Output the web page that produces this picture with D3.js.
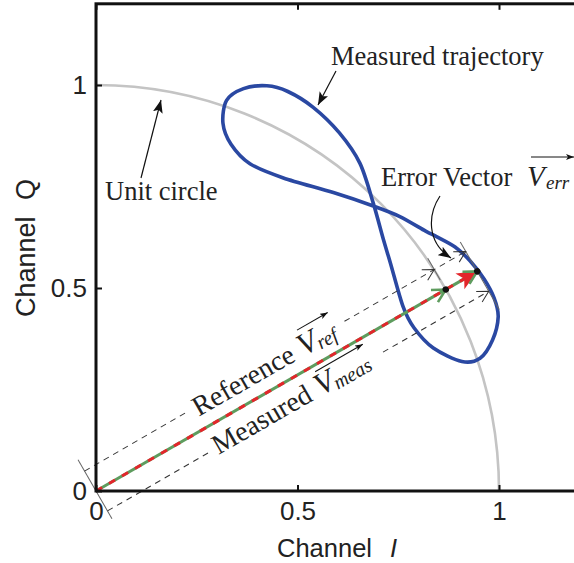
<!DOCTYPE html>
<html><head><meta charset="utf-8">
<script src="https://cdn.jsdelivr.net/npm/d3@7"></script>
<style>body{margin:0;background:#fff} svg{display:block}</style>
</head><body><svg id="c" width="574" height="563"></svg>
<script>
// ---- data ----
const iTicks = [0, 0.5, 1];
const qTicks = [0, 0.5, 1];
const iTickLabels = ["0", "0.5", "1"];
const qTickLabels = ["0", "0.5", "1"];
const trajI = [0.424,0.476,0.539,0.604,0.655,0.688,0.713,0.731,0.762,0.789,0.837,0.908,0.953,0.984,0.998,0.988,0.963,0.928,0.891,0.846,0.818,0.754,0.688,0.589,0.465,0.382,0.335,0.315,0.324,0.366];
const trajQ = [0.998,0.984,0.945,0.882,0.807,0.709,0.620,0.560,0.454,0.402,0.352,0.319,0.327,0.372,0.429,0.475,0.522,0.567,0.601,0.626,0.640,0.676,0.702,0.735,0.771,0.806,0.854,0.906,0.962,0.991];
const refPoint = [0.868, 0.496];
const measPoint = [0.946, 0.541];
const unitRadius = 1;

// ---- setup ----
const SERIF = "'Liberation Serif','Times New Roman',serif";
const SANS = "'Liberation Sans',Arial,sans-serif";
const svg = d3.select("#c");
const x = d3.scaleLinear().domain([0, 1.2]).range([96, 96 + 403 * 1.2]);
const y = d3.scaleLinear().domain([0, 1.2]).range([491, 491 - 406 * 1.2]);

const defs = svg.append("defs");
defs.append("marker").attr("id","ah").attr("markerUnits","userSpaceOnUse")
  .attr("markerWidth",14).attr("markerHeight",10).attr("refX",13).attr("refY",5).attr("orient","auto")
  .append("path").attr("d","M0,0 L13,5 L0,10 L3,5 Z").attr("fill","#111");
defs.append("marker").attr("id","sa").attr("markerUnits","userSpaceOnUse")
  .attr("markerWidth",8).attr("markerHeight",6).attr("refX",8).attr("refY",3).attr("orient","auto")
  .append("path").attr("d","M0,0 L8,3 L0,6 L2,3 Z").attr("fill","#111");

// unit circle
const rx = x(unitRadius) - x(0), ry = y(0) - y(unitRadius);
svg.append("path")
  .attr("d", `M${x(0)},${y(unitRadius)} A${rx},${ry} 0 0 1 ${x(unitRadius)},${y(0)}`)
  .attr("fill","none").attr("stroke","#c4c4c4").attr("stroke-width",2.6);

// trajectory
const traj = trajI.map((v,i)=>[v, trajQ[i]]);
svg.append("path")
  .attr("d", d3.line().x(d=>x(d[0])).y(d=>y(d[1])).curve(d3.curveCardinalClosed.tension(0.1))(traj))
  .attr("fill","none").attr("stroke","#2a48a2").attr("stroke-width",3.6);

// vectors in rotated frame
const O = [x(0), y(0)], R = [x(refPoint[0]), y(refPoint[1])], M = [x(measPoint[0]), y(measPoint[1])];
const angDeg = Math.atan2(O[1]-M[1], M[0]-O[0]) * 180 / Math.PI;
const Lr = Math.hypot(R[0]-O[0], R[1]-O[1]);
const Lm = Math.hypot(M[0]-O[0], M[1]-O[1]);
const g = svg.append("g").attr("transform", `translate(${O[0]},${O[1]}) rotate(${-angDeg})`);
const GREEN = "#5e9c5e", RED = "#e3262b";

// extension lines
const ext = [[0,-36,32],[Lr,-36,-11],[Lm,-34,44]];
ext.forEach(e=>g.append("line").attr("x1",e[0]).attr("x2",e[0]).attr("y1",e[1]).attr("y2",e[2])
  .attr("stroke","#666").attr("stroke-width",1));
// dashed dimension lines
const dash = [[0,120,-23],[300,Lm,-23],[0,118,23],[318,Lm,23]];
dash.forEach(d=>g.append("line").attr("x1",d[0]).attr("x2",d[1]).attr("y1",d[2]).attr("y2",d[2])
  .attr("stroke","#333").attr("stroke-width",1).attr("stroke-dasharray","6,5"));
// black chevrons on dimension lines
[[Lr,-23],[Lm,-23],[Lm,23]].forEach(c=>g.append("path")
  .attr("d",`M${c[0]-11},${c[1]-6} L${c[0]},${c[1]} L${c[0]-11},${c[1]+6}`)
  .attr("fill","none").attr("stroke","#333").attr("stroke-width",1));

// main vector
g.append("line").attr("x1",0).attr("y1",0).attr("x2",Lm-6).attr("y2",0).attr("stroke",GREEN).attr("stroke-width",3);
g.append("line").attr("x1",0).attr("y1",0).attr("x2",Lm-14).attr("y2",0).attr("stroke",RED).attr("stroke-width",3)
  .attr("stroke-dasharray","7,8");
g.append("path").attr("d",`M${Lm},0 L${Lm-20},-9 L${Lm-15},0 L${Lm-20},9 Z`).attr("fill",RED);
[Lr, Lm].forEach(L=>g.append("path").attr("d",`M${L-13},-7 L${L},0 L${L-13},7`)
  .attr("fill","none").attr("stroke",GREEN).attr("stroke-width",2.6));
[Lr, Lm].forEach(L=>g.append("circle").attr("cx",L).attr("cy",0).attr("r",3.2).attr("fill","#111"));

// vector labels
function vecLabel(word, sub, x0, base, ovY) {
  const t = g.append("text").attr("x",x0).attr("y",base).attr("font-family",SERIF).attr("font-size",28)
    .attr("fill","#222").text(word);
  const wl = t.node().getComputedTextLength();
  const vx = x0 + wl + 8;
  const v = g.append("text").attr("x",vx).attr("y",base).attr("font-family",SERIF).attr("font-size",31)
    .attr("font-style","italic").attr("fill","#222").text("V");
  const vl = v.node().getComputedTextLength();
  const s = g.append("text").attr("x",vx+vl-1).attr("y",base+3).attr("font-family",SERIF).attr("font-size",20)
    .attr("font-style","italic").attr("fill","#222").text(sub);
  const sl = s.node().getComputedTextLength();
  g.append("line").attr("x1",vx+7).attr("x2",vx+vl+sl+2).attr("y1",ovY).attr("y2",ovY)
    .attr("stroke","#111").attr("stroke-width",1).attr("marker-end","url(#sa)");
}
vecLabel("Reference", "ref", 126, -13, -39);
vecLabel("Measured", "meas", 124, 30, 6);

// axes box and ticks
svg.append("rect").attr("x",x(0)).attr("y",y(1.2)).attr("width",x(1.2)-x(0)).attr("height",y(0)-y(1.2))
  .attr("fill","none").attr("stroke","#111").attr("stroke-width",3);
const fmtI = d=>iTickLabels[iTicks.indexOf(d)], fmtQ = d=>qTickLabels[qTicks.indexOf(d)];
const ax = svg.append("g").attr("transform",`translate(0,${y(0)})`)
  .call(d3.axisBottom(x).tickValues(iTicks).tickSize(-6).tickPadding(11).tickFormat(fmtI));
const ay = svg.append("g").attr("transform",`translate(${x(0)},0)`)
  .call(d3.axisLeft(y).tickValues(qTicks).tickSize(-6).tickPadding(9).tickFormat(fmtQ));
const at = svg.append("g").attr("transform",`translate(0,${y(1.2)})`)
  .call(d3.axisTop(x).tickValues(iTicks).tickSize(-6).tickFormat(""));
[ax,ay,at].forEach(a=>{
  a.select(".domain").remove();
  a.selectAll("line").attr("stroke","#111").attr("stroke-width",2);
  a.selectAll("text").attr("font-family",SANS).attr("font-size",26).attr("fill","#222");
});

// axis titles
svg.append("text").attr("x",277).attr("y",557).attr("font-family",SANS).attr("font-size",25.5).attr("fill","#222").text("Channel");
svg.append("text").attr("x",390).attr("y",557).attr("font-family",SANS).attr("font-size",25.5).attr("font-style","italic")
  .attr("font-weight",300).attr("fill","#222").text("I");
const yl = svg.append("g").attr("transform","translate(35,317) rotate(-90)");
yl.append("text").attr("x",0).attr("y",0).attr("font-family",SANS).attr("font-size",27).attr("fill","#222").text("Channel");
yl.append("text").attr("x",117).attr("y",0).attr("font-family",SANS).attr("font-size",27).attr("fill","#222").text("Q");

// annotations
svg.append("text").attr("x",331).attr("y",65).attr("font-family",SERIF).attr("font-size",26.5).attr("fill","#222").text("Measured trajectory");
svg.append("line").attr("x1",336).attr("y1",71).attr("x2",318).attr("y2",105).attr("stroke","#111").attr("stroke-width",1.2).attr("marker-end","url(#ah)");
svg.append("text").attr("x",105).attr("y",200).attr("font-family",SERIF).attr("font-size",26.5).attr("fill","#222").text("Unit circle");
svg.append("line").attr("x1",141).attr("y1",178).attr("x2",161).attr("y2",100).attr("stroke","#111").attr("stroke-width",1.2).attr("marker-end","url(#ah)");
svg.append("text").attr("x",381).attr("y",186).attr("font-family",SERIF).attr("font-size",26.5).attr("fill","#222").text("Error Vector");
svg.append("text").attr("x",527).attr("y",186).attr("font-family",SERIF).attr("font-size",29).attr("font-style","italic").attr("fill","#222").text("V");
svg.append("text").attr("x",546).attr("y",189).attr("font-family",SERIF).attr("font-size",19).attr("font-style","italic").attr("fill","#222").text("err");
svg.append("line").attr("x1",531).attr("y1",157).attr("x2",574).attr("y2",157).attr("stroke","#111").attr("stroke-width",1).attr("marker-end","url(#sa)");
svg.append("path").attr("d","M440,196 C428,214 426,242 451,258").attr("fill","none").attr("stroke","#111").attr("stroke-width",1.2).attr("marker-end","url(#ah)");
</script></body></html>
